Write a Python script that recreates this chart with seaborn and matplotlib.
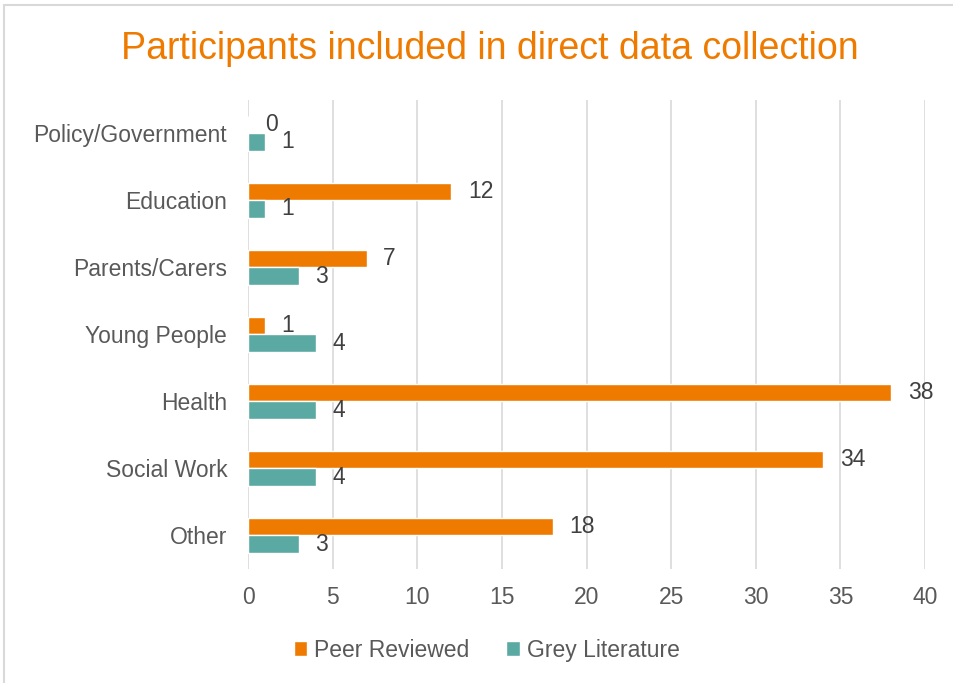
import matplotlib
matplotlib.use("Agg")
import matplotlib.pyplot as plt
from matplotlib import font_manager
from matplotlib.patches import Rectangle
import seaborn as sns
import pandas as pd

categories = ["Policy/Government", "Education", "Parents/Carers", "Young People",
              "Health", "Social Work", "Other"]
peer_reviewed = [0, 12, 7, 1, 38, 34, 18]
grey_literature = [1, 1, 3, 4, 4, 4, 3]
series_names = ["Peer Reviewed", "Grey Literature"]
x_ticks = [0, 5, 10, 15, 20, 25, 30, 35, 40]

df = pd.DataFrame({
    "category": categories * 2,
    "value": peer_reviewed + grey_literature,
    "series": [series_names[0]] * len(categories) + [series_names[1]] * len(categories),
})

sns.set_theme(style="white")
available = {f.name for f in font_manager.fontManager.ttflist}
family = "Liberation Sans Narrow" if "Liberation Sans Narrow" in available else "Liberation Sans"
plt.rcParams["font.family"] = [family, "DejaVu Sans"]

orange = "#EE7B00"
teal = "#5BA9A3"
text_gray = "#595959"
grid_gray = "#D9D9D9"

fig = plt.figure(figsize=(9.54, 6.83), dpi=100)
ax = fig.add_axes([0.26, 0.167, 0.7096, 0.687])

sns.barplot(data=df, y="category", x="value", hue="series", order=categories,
            hue_order=series_names, palette=[orange, teal], saturation=1,
            orient="h", width=0.52, ax=ax, legend=True)

for container in ax.containers:
    ax.bar_label(container, padding=12, fontsize=16.5, color="#404040")

ax.set_xlim(0, 40)
ax.set_xticks(x_ticks)
ax.set_xlabel("")
ax.set_ylabel("")
ax.tick_params(axis="both", length=0, labelsize=16.5, labelcolor=text_gray)
ax.tick_params(axis="x", pad=12)
ax.tick_params(axis="y", pad=15)
ax.grid(axis="x", color=grid_gray, linewidth=1.2)
ax.set_axisbelow(True)
for s in ax.spines.values():
    s.set_visible(False)

ax.legend_.remove()
handles, labels = ax.get_legend_handles_labels()
fig.legend(handles[:2], labels[:2], loc="center", bbox_to_anchor=(0.51, 0.048),
           ncol=2, frameon=False, fontsize=16.5, labelcolor=text_gray,
           handlelength=0.6, handleheight=0.6, handletextpad=0.3, columnspacing=1.6)

fig.text(0.513, 0.928, "Participants included in direct data collection",
         ha="center", va="center", fontsize=27, color=orange)

fig.patches.append(Rectangle((0.004, -0.01), 1.2, 1.003, transform=fig.transFigure,
                             fill=False, edgecolor=grid_gray, linewidth=1.5))

fig.savefig("out.png", dpi=100)
